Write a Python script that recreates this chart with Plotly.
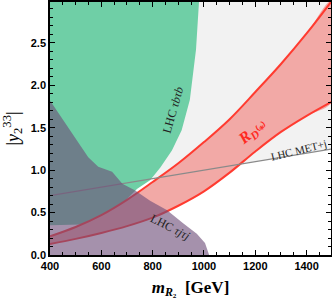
import plotly.graph_objects as go

# ---------------- data ----------------
band_m = [400, 500, 600, 700, 800, 900, 1000, 1100, 1200, 1300, 1400, 1500]
rd_upper = [0.22, 0.33, 0.47, 0.65, 0.86, 1.08, 1.33, 1.60, 1.92, 2.25, 2.61, 3.00]
rd_lower = [0.13, 0.19, 0.26, 0.34, 0.44, 0.58, 0.75, 0.97, 1.22, 1.45, 1.64, 1.81]

met_m = [400, 1500]
met_y = [0.70, 1.25]

green_m = [400, 520, 600, 680, 740, 790, 830, 875, 913, 945, 969, 981]
green_y = [0.35, 0.36, 0.42, 0.60, 0.78, 0.88, 1.03, 1.23, 1.47, 1.83, 2.42, 3.00]

purple_m = [400, 450, 511, 549, 588, 642, 682, 732, 790, 855, 920, 972, 1004, 1016, 1020]
purple_y = [1.82, 1.60, 1.32, 1.15, 1.04, 0.98, 0.84, 0.76, 0.64, 0.53, 0.37, 0.25, 0.14, 0.05, 0.0]

x_ticks = [400, 600, 800, 1000, 1200, 1400]
y_ticks = [0.0, 0.5, 1.0, 1.5, 2.0, 2.5]

YTOP = 3.2
fig = go.Figure()

# light grey excluded region above MET+j line
fig.add_trace(go.Scatter(
    x=met_m + [met_m[-1], met_m[0]], y=met_y + [YTOP, YTOP],
    fill="toself", fillcolor="#f2f2f2", line=dict(width=0), mode="lines",
    hoverinfo="skip", showlegend=False))

# green LHC tau b tau b
fig.add_trace(go.Scatter(
    x=green_m + [400], y=green_y + [YTOP],
    fill="toself", fillcolor="#6fcfa6", line=dict(width=0), mode="lines",
    hoverinfo="skip", showlegend=False))

# red R_D band
fig.add_trace(go.Scatter(
    x=band_m + band_m[::-1], y=rd_upper + rd_lower[::-1],
    fill="toself", fillcolor="#f2a9a6", line=dict(width=0, shape="spline"), mode="lines",
    hoverinfo="skip", showlegend=False))
fig.add_trace(go.Scatter(x=band_m, y=rd_upper, mode="lines", line=dict(color="#ff3b30", width=2, shape="spline"),
                         hoverinfo="skip", showlegend=False))
fig.add_trace(go.Scatter(x=band_m, y=rd_lower, mode="lines", line=dict(color="#ff3b30", width=2, shape="spline"),
                         hoverinfo="skip", showlegend=False))

# MET+j line
fig.add_trace(go.Scatter(x=met_m, y=met_y, mode="lines", line=dict(color="#8a8a8a", width=1.3),
                         hoverinfo="skip", showlegend=False))

# purple LHC tau j tau j (semi-transparent on top)
fig.add_trace(go.Scatter(
    x=purple_m + [400], y=purple_y + [0.0],
    fill="toself", fillcolor="rgba(109,78,121,0.62)", line=dict(width=0), mode="lines",
    hoverinfo="skip", showlegend=False))

serif = "Liberation Serif"

fig.add_annotation(x=879, y=1.71, text="LHC <i>τbτb</i>", textangle=-74, showarrow=False,
                   font=dict(family=serif, size=12, color="#222"))
fig.add_annotation(x=1191, y=1.45, text="<b><i>R</i><sub><i>D</i>⁽*⁾</sub></b>", textangle=-39, showarrow=False,
                   font=dict(family=serif, size=16, color="#ff2a1f"))
fig.add_annotation(x=1370, y=1.24, text="LHC MET+j", textangle=-14, showarrow=False,
                   font=dict(family=serif, size=11, color="#222"))
fig.add_annotation(x=868, y=0.33, text="LHC <i>τjτj</i>", textangle=27, showarrow=False,
                   font=dict(family=serif, size=12, color="#222"))

axis_common = dict(showline=True, linecolor="black", linewidth=1.5, mirror="ticks",
                   ticks="inside", ticklen=5, tickwidth=1, tickcolor="black",
                   showgrid=False, zeroline=False,
                   tickfont=dict(family="Liberation Sans", size=11, color="black", weight="bold"))

fig.update_xaxes(range=[400, 1495], autorange=False, tickvals=x_ticks, ticktext=[str(v) for v in x_ticks],
                 minor=dict(dtick=50, ticks="inside", ticklen=3, tickcolor="black", showgrid=False),
                 title=dict(text="<b><i>m</i><sub><i>R</i>₂</sub>  [GeV]</b>", standoff=10,
                            font=dict(family=serif, size=17, color="black")),
                 **axis_common)
fig.update_yaxes(range=[0, 2.98], autorange=False, tickvals=y_ticks, ticktext=[f"{v:.1f}" for v in y_ticks],
                 minor=dict(dtick=0.1, ticks="inside", ticklen=3, tickcolor="black", showgrid=False),
                 title=dict(text="|<i>y</i><sub>2</sub><sup>33</sup>|", standoff=7,
                            font=dict(family=serif, size=18, color="black")),
                 **axis_common)

fig.update_layout(width=332, height=301, margin=dict(l=50, r=1, t=2, b=46, autoexpand=False),
                  plot_bgcolor="white", paper_bgcolor="white")

fig.write_html("out.html", config={"displayModeBar": False},
               post_script="document.body.style.margin='0';document.body.style.overflow='hidden';")
